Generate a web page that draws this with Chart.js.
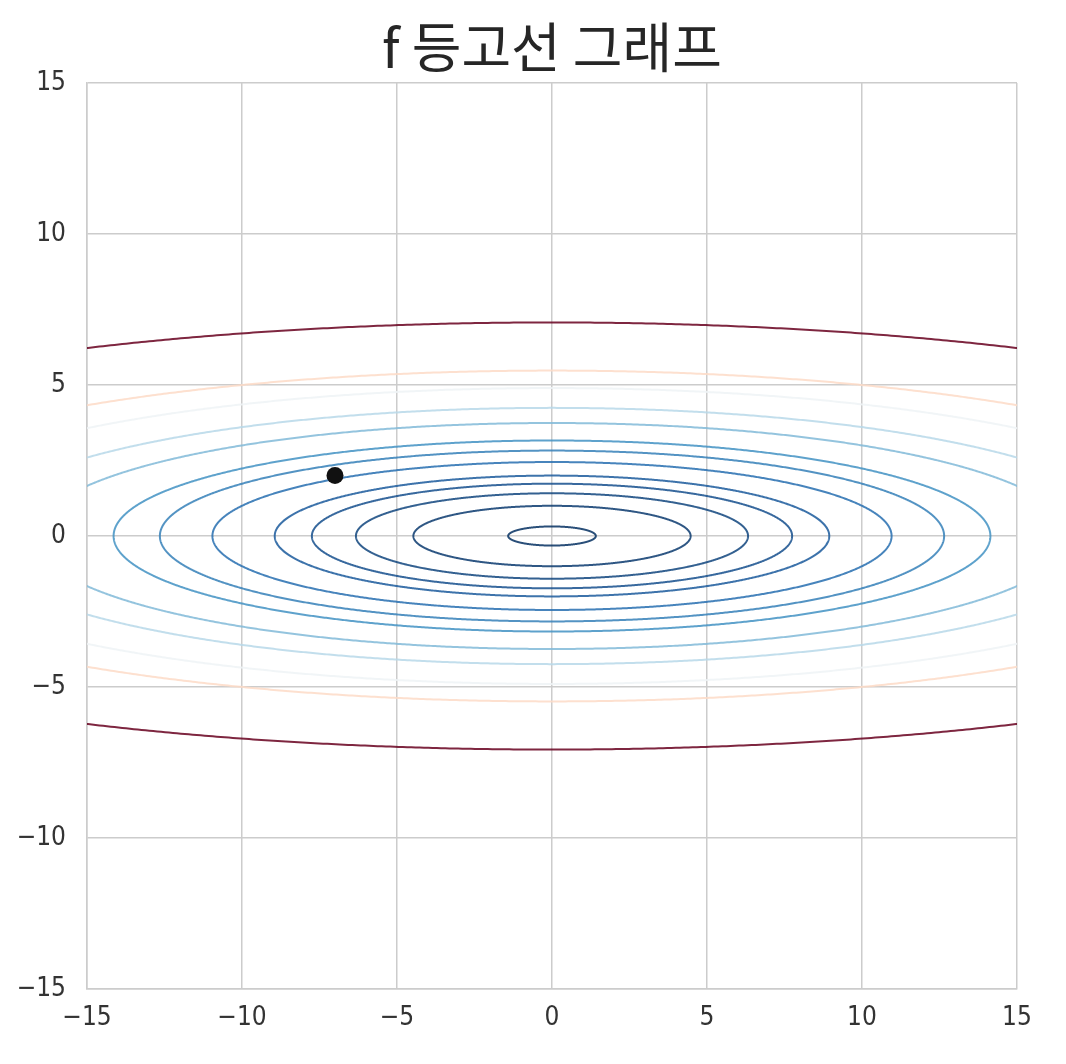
<!DOCTYPE html>
<html>
<head>
<meta charset="utf-8">
<script src="https://cdn.jsdelivr.net/npm/chart.js@4.4.1/dist/chart.umd.min.js"></script>
<style>
  html, body { margin: 0; padding: 0; background: #ffffff; }
  canvas { display: block; }
</style>
</head>
<body>
<canvas id="c" width="1066" height="1064"></canvas>
<script>
// ---- data ----
const titleText = 'f 등고선 그래프';
// f(x, y) = x^2 + yWeight * y^2, contour levels drawn
const yWeight = 20;
const levels = [2, 20, 40, 60, 80, 120, 160, 200, 280, 360, 480, 600, 1000];
const markX = [-7];
const markY = [2];
const axisMin = -15;
const axisMax = 15;
const tickStep = 5;

// ---- RdBu_r colormap ----
const cmapStops = ['#053061', '#2166ac', '#4393c3', '#92c5de', '#d1e5f0', '#f7f7f7',
                   '#fddbc7', '#f4a582', '#d6604d', '#b2182b', '#67001f'];
function hexToRgb(h) {
  return [parseInt(h.slice(1, 3), 16), parseInt(h.slice(3, 5), 16), parseInt(h.slice(5, 7), 16)];
}
function cmap(t, alpha) {
  t = Math.max(0, Math.min(1, t));
  const n = cmapStops.length - 1;
  const i = Math.min(n - 1, Math.floor(t * n));
  const f = t * n - i;
  const a = hexToRgb(cmapStops[i]), b = hexToRgb(cmapStops[i + 1]);
  const c = a.map((v, k) => Math.round(v + (b[k] - v) * f));
  return `rgba(${c[0]},${c[1]},${c[2]},${alpha})`;
}

// trace the level set f(x,y)=L (an ellipse) for each level
function contourPoints(L) {
  const ax = Math.sqrt(L), by = Math.sqrt(L / yWeight);
  const pts = [];
  const N = 720;
  for (let i = 0; i <= N; i++) {
    const t = (i / N) * 2 * Math.PI;
    pts.push({ x: ax * Math.cos(t), y: by * Math.sin(t) });
  }
  return pts;
}

const lmin = Math.min(...levels), lmax = Math.max(...levels);
const datasets = levels.map(L => ({
  label: 'f=' + L,
  data: contourPoints(L),
  showLine: true,
  borderColor: cmap((L - lmin) / (lmax - lmin), 0.85),
  borderWidth: 2,
  pointRadius: 0,
  pointHoverRadius: 0,
  tension: 0.01,
  fill: false,
  clip: 0,
  order: 2
}));
datasets.push({
  label: 'point',
  data: markX.map((x, i) => ({ x: x, y: markY[i] })),
  showLine: false,
  pointRadius: 8.5,
  pointBackgroundColor: '#111111',
  pointBorderColor: '#111111',
  pointBorderWidth: 0,
  order: 0
});

const tickFont = { family: "'Liberation Sans Narrow', 'DejaVu Sans Condensed', 'Noto Sans', sans-serif", size: 26 };
const fmt = v => (v < 0 ? '\u2212' + Math.abs(v) : String(v));
const gridStyle = { color: '#cccccc', lineWidth: 1.5, drawTicks: false };

new Chart(document.getElementById('c'), {
  type: 'scatter',
  data: { datasets },
  options: {
    responsive: false,
    animation: false,
    events: [],
    layout: { padding: { left: 0, right: 49, top: 0, bottom: 0 } },
    plugins: {
      legend: { display: false },
      tooltip: { enabled: false },
      title: {
        display: true,
        fullSize: false,
        text: titleText,
        color: '#262626',
        font: { family: "'Noto Sans CJK KR', 'Noto Sans', sans-serif", size: 54, weight: 'normal', lineHeight: 1.2 },
        padding: { top: 15, bottom: 3.2 }
      }
    },
    scales: {
      x: {
        type: 'linear',
        min: axisMin, max: axisMax,
        grid: gridStyle,
        border: { color: '#cccccc', width: 1.5 },
        ticks: { stepSize: tickStep, color: '#333333', font: tickFont, padding: 14, callback: fmt, maxRotation: 0 },
        afterFit: s => { s.height = 75; }
      },
      y: {
        type: 'linear',
        min: axisMin, max: axisMax,
        grid: gridStyle,
        border: { color: '#cccccc', width: 1.5 },
        ticks: { stepSize: tickStep, color: '#333333', font: tickFont, padding: 21, callback: fmt },
        afterFit: s => { s.width = 87; }
      }
    }
  }
});
</script>
</body>
</html>
